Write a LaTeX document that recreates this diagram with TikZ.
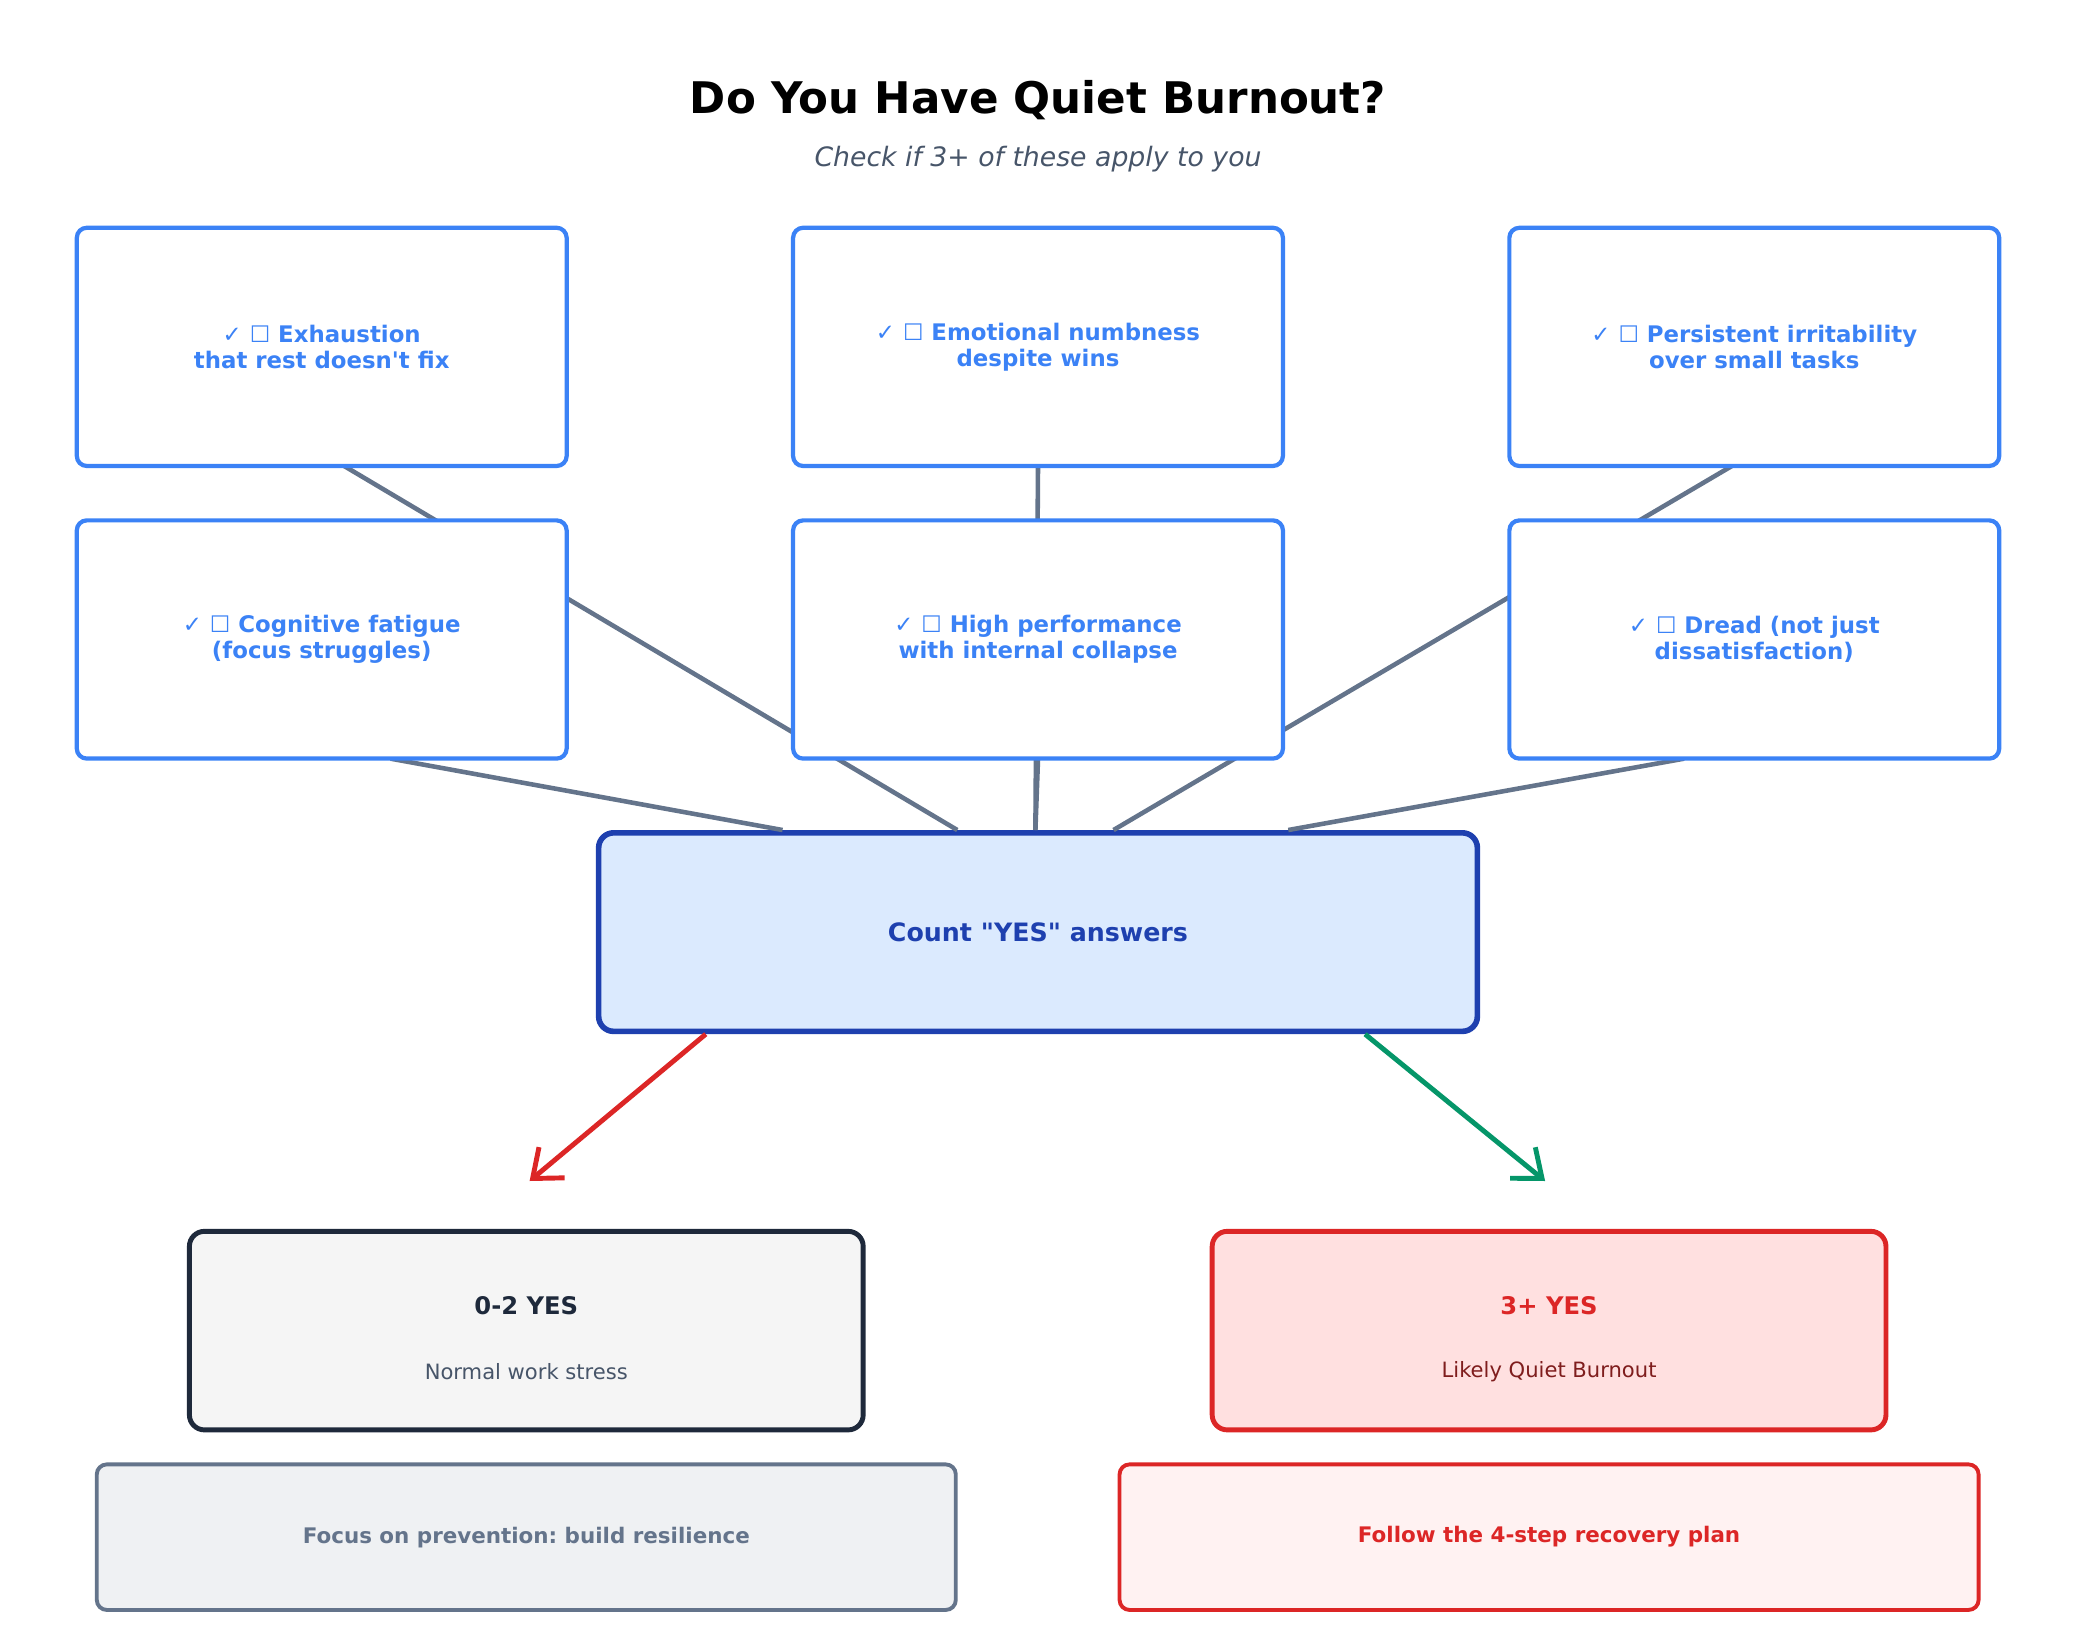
\documentclass[tikz,border=0pt]{standalone}
\usepackage{fontspec}
\setmainfont{DejaVu Sans}[Ligatures=TeXOff]
\usetikzlibrary{calc,arrows.meta}
\definecolor{qblue}{HTML}{3B82F6}
\definecolor{qdblue}{HTML}{1E40AF}
\definecolor{qlblue}{HTML}{DBEAFE}
\definecolor{qgray}{HTML}{64748B}
\definecolor{qred}{HTML}{DC2626}
\definecolor{qgreen}{HTML}{059669}
\definecolor{qdark}{HTML}{1E293B}
\definecolor{qsub}{HTML}{475569}
\definecolor{qdred}{HTML}{7F1D1D}
\frenchspacing
\begin{document}
\begin{tikzpicture}[x=0.01324cm,y=-0.01324cm,
  box/.style={draw=qblue,line width=1.2pt,fill=white,rounded corners=0.1cm,minimum width=4.9cm,minimum height=2.383cm,align=center,text=qblue,font=\fontsize{6.5}{7.5}\selectfont\bfseries},
  conn/.style={draw=qgray,line width=1.3pt},
  res/.style={line width=1.4pt,rounded corners=0.15cm,minimum width=6.74cm,minimum height=1.986cm},
  foot/.style={line width=1.1pt,rounded corners=0.1cm,minimum width=8.593cm,minimum height=1.456cm,font=\fontsize{6.1}{7}\selectfont\bfseries},
  arr/.style={line width=1.4pt,-{Straight Barb[length=0.25cm,width=0.4cm]}}]
\useasboundingbox (0,0) rectangle (1568,1228);
\node[font=\fontsize{12.4}{15}\selectfont\bfseries] (title) at (784,76) {Do You Have Quiet Burnout?};
\node[font=\fontsize{7.6}{10}\selectfont\itshape,text=qsub] (sub) at (784,120) {Check if 3+ of these apply to you};
\node[draw=qdblue,fill=qlblue,line width=1.6pt,rounded corners=0.15cm,minimum width=8.79cm,minimum height=1.986cm,text=qdblue,font=\fontsize{7.2}{9}\selectfont\bfseries] (c) at (784,704) {Count "YES" answers};
\coordinate (a1e) at (260,352);
\coordinate (a2e) at (784,352);
\coordinate (a3e) at (1308,352);
\coordinate (b1e) at (295,573);
\coordinate (b2e) at (784,573);
\coordinate (b3e) at (1272,573);
\draw[conn] (a1e) -- ($(c.north west)+(273,0)$);
\draw[conn] (a2e) -- ($(c.north west)+(332,0)$);
\draw[conn] (a3e) -- ($(c.north west)+(391,0)$);
\draw[conn] (b1e) -- ($(c.north west)+(141,0)$);
\draw[conn] (b2e) -- ($(c.north west)+(332,0)$);
\draw[conn] (b3e) -- ($(c.north west)+(523,0)$);
\node[box] (a1) at (243,262) {✓ ☐ Exhaustion\\that rest doesn't fix};
\node[box] (a2) at (784,262) {✓ ☐ Emotional numbness\\despite wins};
\node[box] (a3) at (1325,262) {✓ ☐ Persistent irritability\\over small tasks};
\node[box] (b1) at (243,483) {✓ ☐ Cognitive fatigue\\(focus struggles)};
\node[box] (b2) at (784,483) {✓ ☐ High performance\\with internal collapse};
\node[box] (b3) at (1325,483) {✓ ☐ Dread (not just\\dissatisfaction)};
\coordinate (l) at (400,892);
\coordinate (r) at (1167,892);
\draw[arr,qred] ($(c.south west)+(83,0)$) -- (l);
\draw[arr,qgreen] ($(c.south west)+(581,0)$) -- (r);
\node[res,draw=qdark,fill=gray!8] (r1) at (397.5,1005) {};
\node[font=\fontsize{6.9}{9}\selectfont\bfseries,text=qdark] (r1t) at (397.5,986) {0-2 YES};
\node[font=\fontsize{6}{8}\selectfont,text=qsub] (r1s) at (397.5,1036) {Normal work stress};
\node[res,draw=qred,fill=red!12] (r2) at (1170,1005) {};
\node[font=\fontsize{6.9}{9}\selectfont\bfseries,text=qred] (r2t) at (1170,986) {3+ YES};
\node[font=\fontsize{6}{8}\selectfont,text=qdred] (r2s) at (1170,1036) {Likely Quiet Burnout};
\node[foot,draw=qgray,fill=qgray!10,text=qgray] (f1) at (397.5,1161) {Focus on prevention: build resilience};
\node[foot,draw=qred,fill=red!5,text=qred] (f2) at (1170,1161) {Follow the 4-step recovery plan};
\end{tikzpicture}
\end{document}
